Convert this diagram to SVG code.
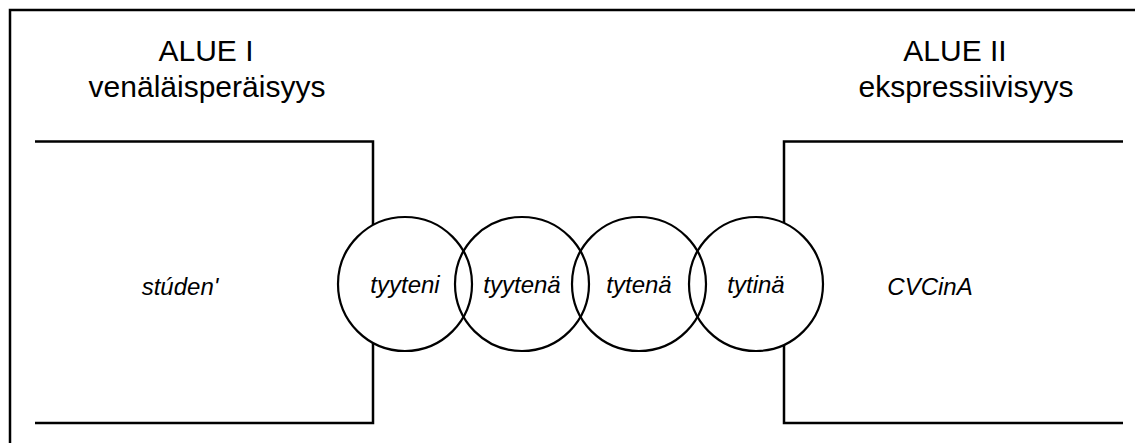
<svg xmlns="http://www.w3.org/2000/svg" width="1135" height="443" viewBox="0 0 1135 443">
  <style>
    .ln { fill: none; stroke: #000; stroke-width: 2.5; }
    .ring { fill: none; stroke: #000; stroke-width: 2.2; }
    .head { font-family: "Liberation Sans", Arial, sans-serif; font-size: 30px; fill: #000; text-anchor: middle; }
    .word { font-family: "Liberation Sans", Arial, sans-serif; font-size: 24px; font-style: italic; fill: #000; text-anchor: middle; }
  </style>

  <!-- outer frame (open to the right and bottom) -->
  <path class="ln" d="M10,443 V10 H1135"/>

  <!-- area I -->
  <g id="area1">
    <text class="head" x="206" y="61">ALUE I</text>
    <text class="head" x="207" y="97">venäläisperäisyys</text>
    <path class="ln" d="M35,141.5 H373 V225"/>
    <path class="ln" d="M373,343 V423 H35"/>
    <text class="word" x="180" y="295">stúden'</text>
  </g>

  <!-- area II -->
  <g id="area2">
    <text class="head" x="955" y="61">ALUE II</text>
    <text class="head" x="966" y="97">ekspressiivisyys</text>
    <path class="ln" d="M1123,141.5 H784 V223"/>
    <path class="ln" d="M784,345 V423 H1123"/>
    <text class="word" x="930" y="295">CVCinA</text>
  </g>

  <!-- overlapping word forms -->
  <g id="c1">
    <circle class="ring" cx="405" cy="284" r="67"/>
    <text class="word" x="405" y="293">tyyteni</text>
  </g>
  <g id="c2">
    <circle class="ring" cx="522" cy="284" r="67"/>
    <text class="word" x="522" y="293">tyytenä</text>
  </g>
  <g id="c3">
    <circle class="ring" cx="639" cy="284" r="67"/>
    <text class="word" x="639" y="293">tytenä</text>
  </g>
  <g id="c4">
    <circle class="ring" cx="756" cy="284" r="67"/>
    <text class="word" x="756" y="293">tytinä</text>
  </g>

  <g id="connectors"></g>
</svg>
